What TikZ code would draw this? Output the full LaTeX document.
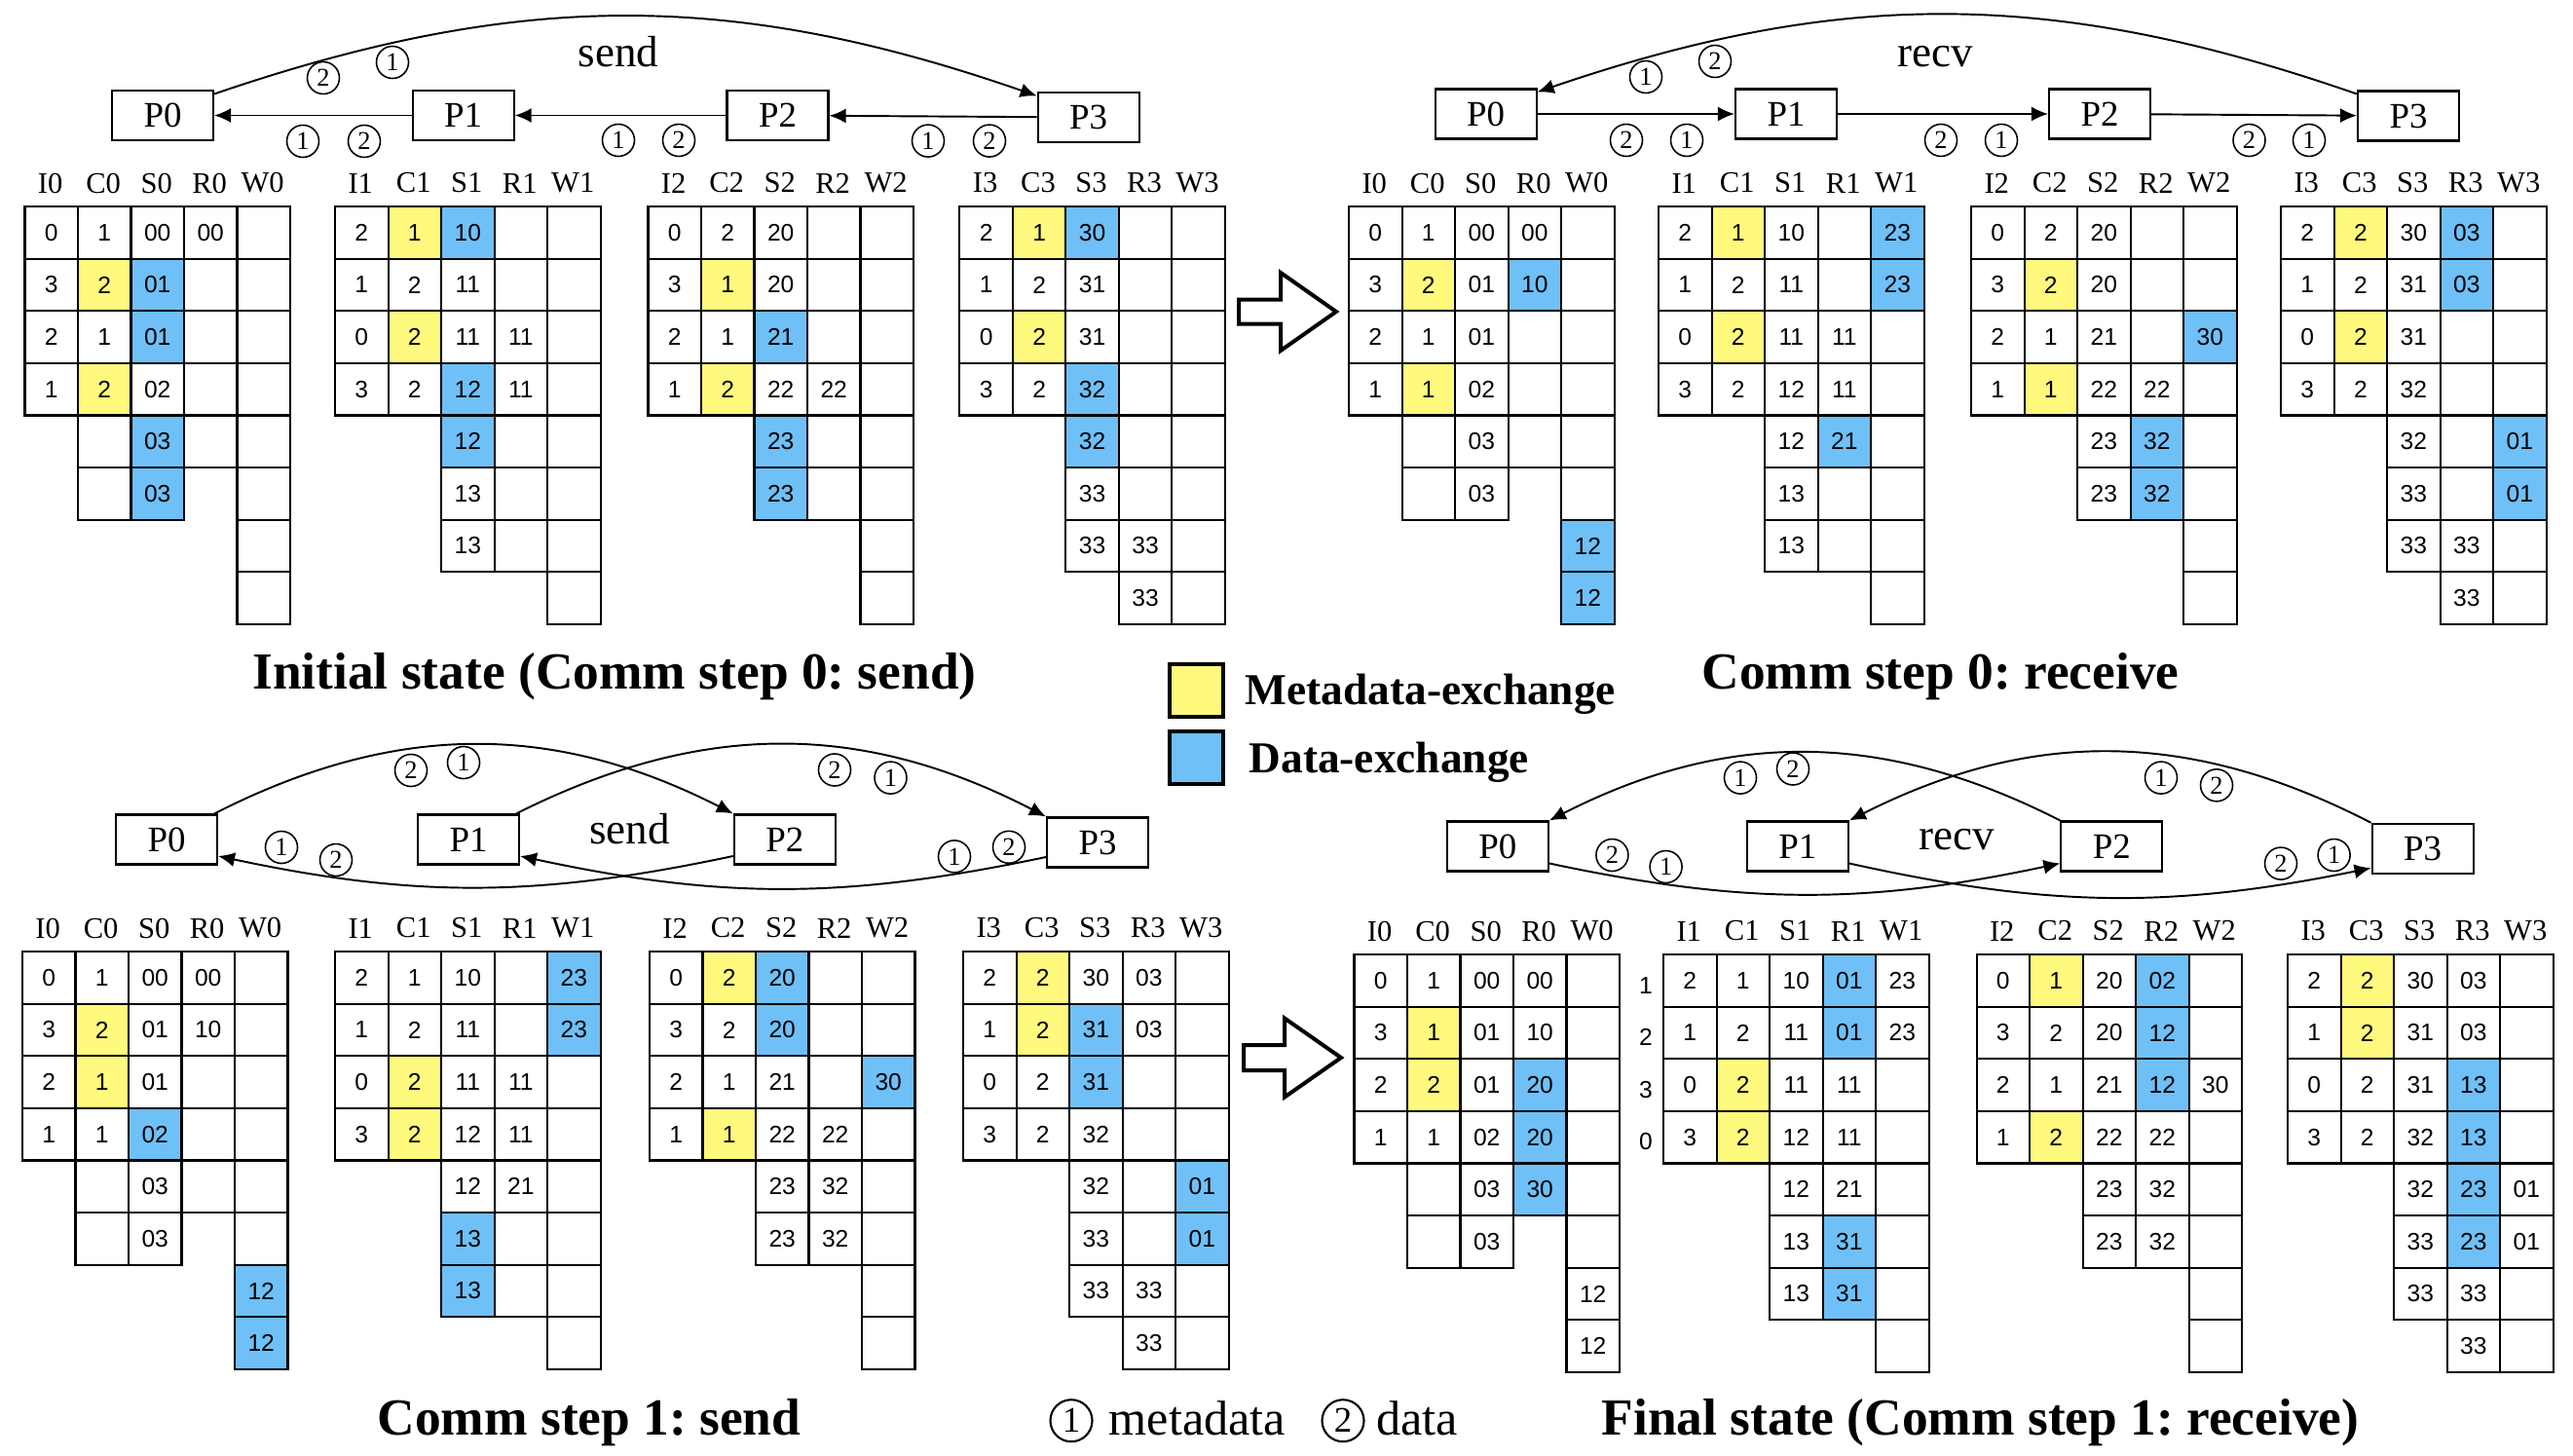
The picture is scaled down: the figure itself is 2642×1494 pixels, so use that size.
\documentclass[tikz,border=0pt]{standalone}
\usepackage{fontspec}
\setmainfont{Liberation Serif}
\newfontfamily\cellfont{Liberation Sans}
\usepackage{xcolor}
\usepackage{tikz}
\usetikzlibrary{arrows.meta}
\frenchspacing

\definecolor{metayellow}{RGB}{255,249,126}
\definecolor{datablue}{RGB}{111,192,247}

\tikzset{
  wc/.style={draw, line width=0.6pt, minimum width=5.45mm, minimum height=5.36mm, inner sep=0pt, anchor=north west, font=\cellfont\fontsize{7}{8}\selectfont},
  yc/.style={wc, fill=metayellow},
  bc/.style={wc, fill=datablue},
  head/.style={inner sep=0pt, font=\fontsize{8.7}{10}\selectfont},
  proc/.style={draw, line width=0.6pt, minimum width=10.4mm, minimum height=5.1mm, inner sep=0pt, font=\fontsize{10.5}{12}\selectfont},
  cnum/.style={circle, draw, line width=0.45pt, minimum size=3.3mm, inner sep=0pt, font=\fontsize{7.5}{8}\selectfont},
  cbig/.style={circle, draw, line width=0.6pt, minimum size=4.3mm, inner sep=0pt, font=\fontsize{10.5}{12}\selectfont},
  msg/.style={-{Latex[length=1.7mm,width=1.5mm]}, line width=0.55pt},
  title/.style={anchor=base, inner sep=0pt, font=\bfseries\fontsize{15.2}{18}\selectfont},
  keybox/.style={draw, line width=0.4mm, minimum width=5.5mm, minimum height=5.4mm, inner sep=0pt},
  keytext/.style={anchor=base west, inner sep=0pt, font=\bfseries\fontsize{12.9}{15}\selectfont},
  note/.style={anchor=base west, inner sep=0pt, font=\fontsize{14.3}{17}\selectfont},
  oplabel/.style={anchor=base, inner sep=0pt, font=\fontsize{12.8}{15}\selectfont},
}

% one buffer column: name, x, y, list of style/value
\newcommand{\bufcol}[4]{%
  \foreach [count=\row from 0] \sty/\val in {#4}
    \node[\sty] (#1-\row) at ({#2},{#3+53.6*\row}) {\val};%
}
% one rank: name, rank, x, y, I, C, S, R, W
\newcommand{\rankbuf}[9]{%
  \foreach [count=\col from 0] \hd in {I,C,S,R,W}
    \node[head] (#1-h\hd) at ({#3+27.25+54.5*\col},{#4-23}) {\hd#2};
  \bufcol{#1-I}{#3}{#4}{#5}
  \bufcol{#1-C}{#3+54.5}{#4}{#6}
  \bufcol{#1-S}{#3+109}{#4}{#7}
  \bufcol{#1-R}{#3+163.5}{#4}{#8}
  \bufcol{#1-W}{#3+218}{#4}{#9}
}

\begin{document}
\begin{tikzpicture}[x=0.1mm, y=-0.1mm]
  \useasboundingbox (0,0) rectangle (2642,1494);

  % Initial state (send, step 0)
  \node[proc] (s0P0) at (167,118.5) {P0};
  \node[proc] (s0P1) at (475.6,118.5) {P1};
  \node[proc] (s0P2) at (798.5,118.5) {P2};
  \node[proc] (s0P3) at (1117.7,120.5) {P3};
  \draw[msg] (s0P1) -- (s0P0);
  \draw[msg] (s0P2) -- (s0P1);
  \draw[msg] (s0P3) -- (s0P2);
  \draw[msg] ([yshift=-0.45mm]s0P0.north east) to[bend left=19] ([yshift=-0.45mm]s0P3.north west);
  \node[oplabel] (s0op) at (635,69) {send};
  \node[cnum] (s0c1) at (332,80) {2};
  \node[cnum] (s0c2) at (403,64) {1};
  \node[cnum] (s0c3) at (311,145) {1};
  \node[cnum] (s0c4) at (374,145) {2};
  \node[cnum] (s0c5) at (635,144) {1};
  \node[cnum] (s0c6) at (697,144) {2};
  \node[cnum] (s0c7) at (953,144.6) {1};
  \node[cnum] (s0c8) at (1016,144.6) {2};

  \rankbuf{s0b0}{0}{24.4}{211}{wc/0,wc/3,wc/2,wc/1}{wc/1,yc/2,wc/1,yc/2,wc/{},wc/{}}{wc/00,bc/01,bc/01,wc/02,bc/03,bc/03}{wc/00,wc/{},wc/{},wc/{},wc/{}}{wc/{},wc/{},wc/{},wc/{},wc/{},wc/{},wc/{},wc/{}}
  \rankbuf{s0b1}{1}{343}{211}{wc/2,wc/1,wc/0,wc/3}{yc/1,wc/2,yc/2,wc/2}{bc/10,wc/11,wc/11,bc/12,bc/12,wc/13,wc/13}{wc/{},wc/{},wc/11,wc/11,wc/{},wc/{},wc/{}}{wc/{},wc/{},wc/{},wc/{},wc/{},wc/{},wc/{},wc/{}}
  \rankbuf{s0b2}{2}{664.4}{211}{wc/0,wc/3,wc/2,wc/1}{wc/2,yc/1,wc/1,yc/2}{wc/20,wc/20,bc/21,wc/22,bc/23,bc/23}{wc/{},wc/{},wc/{},wc/22,wc/{},wc/{}}{wc/{},wc/{},wc/{},wc/{},wc/{},wc/{},wc/{},wc/{}}
  \rankbuf{s0b3}{3}{984.3}{211}{wc/2,wc/1,wc/0,wc/3}{yc/1,wc/2,yc/2,wc/2}{bc/30,wc/31,wc/31,bc/32,bc/32,wc/33,wc/33}{wc/{},wc/{},wc/{},wc/{},wc/{},wc/{},wc/33,wc/33}{wc/{},wc/{},wc/{},wc/{},wc/{},wc/{},wc/{},wc/{}}
  \node[title] (s0title) at (631,707) {Initial state (Comm step 0: send)};

  % Comm step 0: receive
  \node[proc] (r0P0) at (1525.6,117) {P0};
  \node[proc] (r0P1) at (1834,117) {P1};
  \node[proc] (r0P2) at (2156,117) {P2};
  \node[proc] (r0P3) at (2473,119) {P3};
  \draw[msg] (r0P0) -- (r0P1);
  \draw[msg] (r0P1) -- (r0P2);
  \draw[msg] (r0P2) -- (r0P3);
  \draw[msg] ([yshift=-0.4mm]r0P3.north west) to[bend right=19] ([yshift=-0.4mm]r0P0.north east);
  \node[oplabel] (r0op) at (1987,69) {recv};
  \node[cnum] (r0c1) at (1690,79) {1};
  \node[cnum] (r0c2) at (1761,63) {2};
  \node[cnum] (r0c3) at (1670,144) {2};
  \node[cnum] (r0c4) at (1732,144) {1};
  \node[cnum] (r0c5) at (1993,144) {2};
  \node[cnum] (r0c6) at (2055,144) {1};
  \node[cnum] (r0c7) at (2309.5,144) {2};
  \node[cnum] (r0c8) at (2371,144) {1};

  \rankbuf{r0b0}{0}{1384}{211}{wc/0,wc/3,wc/2,wc/1}{wc/1,yc/2,wc/1,yc/1,wc/{},wc/{}}{wc/00,wc/01,wc/01,wc/02,wc/03,wc/03}{wc/00,bc/10,wc/{},wc/{},wc/{}}{wc/{},wc/{},wc/{},wc/{},wc/{},wc/{},bc/12,bc/12}
  \rankbuf{r0b1}{1}{1702}{211}{wc/2,wc/1,wc/0,wc/3}{yc/1,wc/2,yc/2,wc/2}{wc/10,wc/11,wc/11,wc/12,wc/12,wc/13,wc/13}{wc/{},wc/{},wc/11,wc/11,bc/21,wc/{},wc/{}}{bc/23,bc/23,wc/{},wc/{},wc/{},wc/{},wc/{},wc/{}}
  \rankbuf{r0b2}{2}{2023}{211}{wc/0,wc/3,wc/2,wc/1}{wc/2,yc/2,wc/1,yc/1}{wc/20,wc/20,wc/21,wc/22,wc/23,wc/23}{wc/{},wc/{},wc/{},wc/22,bc/32,bc/32}{wc/{},wc/{},bc/30,wc/{},wc/{},wc/{},wc/{},wc/{}}
  \rankbuf{r0b3}{3}{2341}{211}{wc/2,wc/1,wc/0,wc/3}{yc/2,wc/2,yc/2,wc/2}{wc/30,wc/31,wc/31,wc/32,wc/32,wc/33,wc/33}{bc/03,bc/03,wc/{},wc/{},wc/{},wc/{},wc/33,wc/33}{wc/{},wc/{},wc/{},wc/{},bc/01,bc/01,wc/{},wc/{}}
  \node[title] (r0title) at (1992.5,707) {Comm step 0: receive};

  % next-state arrows
  \draw[line width=0.4mm, line join=miter] (1272,307.5) -- (1315,307.5) -- (1315,280) -- (1372,320) -- (1315,360) -- (1315,332.5) -- (1272,332.5) -- cycle;
  \draw[line width=0.4mm, line join=miter] (1277,1073) -- (1319,1073) -- (1319,1045.5) -- (1377,1086) -- (1319,1126.5) -- (1319,1099) -- (1277,1099) -- cycle;

  % legend
  \node[keybox, fill=metayellow] (metakey) at (1228.5,709) {};
  \node[keybox, fill=datablue] (datakey) at (1228.5,777.5) {};
  \node[keytext] (metatext) at (1278,723) {Metadata-exchange};
  \node[keytext] (datatext) at (1282,793) {Data-exchange};

  % Comm step 1: send
  \node[proc] (s1P0) at (171,862) {P0};
  \node[proc] (s1P1) at (481,862) {P1};
  \node[proc] (s1P2) at (805.8,862) {P2};
  \node[proc] (s1P3) at (1127,865) {P3};
  \draw[msg] ([xshift=-0.4mm]s1P0.north east) to[bend left=27] (s1P2.north west);
  \draw[msg] ([xshift=-0.4mm]s1P1.north east) to[bend left=27] (s1P3.north west);
  \draw[msg] ([yshift=-1.7mm]s1P2.west) to[bend left=12] ([yshift=-1.7mm]s1P0.east);
  \draw[msg] ([yshift=-1.5mm]s1P3.west) to[bend left=12] ([yshift=-1.7mm]s1P1.east);
  \node[oplabel] (s1op) at (646.5,866) {send};
  \node[cnum] (s1c1) at (422,791) {2};
  \node[cnum] (s1c2) at (476,783) {1};
  \node[cnum] (s1c3) at (289,870) {1};
  \node[cnum] (s1c4) at (345,883) {2};
  \node[cnum] (s1c5) at (857,790.5) {2};
  \node[cnum] (s1c6) at (914.5,798.6) {1};
  \node[cnum] (s1c7) at (980,879.4) {1};
  \node[cnum] (s1c8) at (1036,869.8) {2};

  \rankbuf{s1b0}{0}{21.9}{976}{wc/0,wc/3,wc/2,wc/1}{wc/1,yc/2,yc/1,wc/1,wc/{},wc/{}}{wc/00,wc/01,wc/01,bc/02,wc/03,wc/03}{wc/00,wc/10,wc/{},wc/{},wc/{}}{wc/{},wc/{},wc/{},wc/{},wc/{},wc/{},bc/12,bc/12}
  \rankbuf{s1b1}{1}{343}{976}{wc/2,wc/1,wc/0,wc/3}{wc/1,wc/2,yc/2,yc/2}{wc/10,wc/11,wc/11,wc/12,wc/12,bc/13,bc/13}{wc/{},wc/{},wc/11,wc/11,wc/21,wc/{},wc/{}}{bc/23,bc/23,wc/{},wc/{},wc/{},wc/{},wc/{},wc/{}}
  \rankbuf{s1b2}{2}{665.9}{976}{wc/0,wc/3,wc/2,wc/1}{yc/2,wc/2,wc/1,yc/1}{bc/20,bc/20,wc/21,wc/22,wc/23,wc/23}{wc/{},wc/{},wc/{},wc/22,wc/32,wc/32}{wc/{},wc/{},bc/30,wc/{},wc/{},wc/{},wc/{},wc/{}}
  \rankbuf{s1b3}{3}{988}{976}{wc/2,wc/1,wc/0,wc/3}{yc/2,yc/2,wc/2,wc/2}{wc/30,bc/31,bc/31,wc/32,wc/32,wc/33,wc/33}{wc/03,wc/03,wc/{},wc/{},wc/{},wc/{},wc/33,wc/33}{wc/{},wc/{},wc/{},wc/{},bc/01,bc/01,wc/{},wc/{}}
  \node[title] (s1title) at (605,1473) {Comm step 1: send};

  % Final state (receive, step 1)
  \node[proc] (r1P0) at (1537.8,869) {P0};
  \node[proc] (r1P1) at (1845.8,869) {P1};
  \node[proc] (r1P2) at (2168.4,869) {P2};
  \node[proc] (r1P3) at (2487.6,871.3) {P3};
  \draw[msg] (r1P2.north west) to[bend right=27] (r1P0.north east);
  \draw[msg] (r1P3.north west) to[bend right=27] (r1P1.north east);
  \draw[msg] ([yshift=-1.75mm]r1P0.east) to[bend right=12] ([yshift=-1.75mm]r1P2.west);
  \draw[msg] ([yshift=-1.75mm]r1P1.east) to[bend right=12] ([yshift=-2mm]r1P3.west);
  \node[oplabel] (r1op) at (2009,872) {recv};
  \node[cnum] (r1c1) at (1787,798.6) {1};
  \node[cnum] (r1c2) at (1841,789.5) {2};
  \node[cnum] (r1c3) at (1655.4,878) {2};
  \node[cnum] (r1c4) at (1710.6,890) {1};
  \node[cnum] (r1c5) at (2219,798.6) {1};
  \node[cnum] (r1c6) at (2276,806.3) {2};
  \node[cnum] (r1c7) at (2342,886.6) {2};
  \node[cnum] (r1c8) at (2396.6,878) {1};

  \rankbuf{r1b0}{0}{1389.4}{979}{wc/0,wc/3,wc/2,wc/1}{wc/1,yc/1,yc/2,wc/1,wc/{},wc/{}}{wc/00,wc/01,wc/01,wc/02,wc/03,wc/03}{wc/00,wc/10,bc/20,bc/20,bc/30}{wc/{},wc/{},wc/{},wc/{},wc/{},wc/{},wc/12,wc/12}
  \rankbuf{r1b1}{1}{1707}{979}{wc/2,wc/1,wc/0,wc/3}{wc/1,wc/2,yc/2,yc/2}{wc/10,wc/11,wc/11,wc/12,wc/12,wc/13,wc/13}{bc/01,bc/01,wc/11,wc/11,wc/21,bc/31,bc/31}{wc/23,wc/23,wc/{},wc/{},wc/{},wc/{},wc/{},wc/{}}
  \rankbuf{r1b2}{2}{2028.5}{979}{wc/0,wc/3,wc/2,wc/1}{yc/1,wc/2,wc/1,yc/2}{wc/20,wc/20,wc/21,wc/22,wc/23,wc/23}{bc/02,bc/12,bc/12,wc/22,wc/32,wc/32}{wc/{},wc/{},wc/30,wc/{},wc/{},wc/{},wc/{},wc/{}}
  \rankbuf{r1b3}{3}{2348}{979}{wc/2,wc/1,wc/0,wc/3}{yc/2,yc/2,wc/2,wc/2}{wc/30,wc/31,wc/31,wc/32,wc/32,wc/33,wc/33}{wc/03,wc/03,bc/13,bc/13,bc/23,bc/23,wc/33,wc/33}{wc/{},wc/{},wc/{},wc/{},wc/01,wc/01,wc/{},wc/{}}
  \foreach [count=\row from 0] \val in {1,2,3,0}
    \node[font=\cellfont\fontsize{7}{8}\selectfont] (r1row\row) at (1690,{1011.6+53.6*\row}) {\val};
  \node[title] (r1title) at (2033.5,1473) {Final state (Comm step 1: receive)};

  % circled-number key
  \node[cbig] (metanum) at (1100,1458.7) {1};
  \node[note] (metanote) at (1138,1473) {metadata};
  \node[cbig] (datanum) at (1379,1458.7) {2};
  \node[note] (datanote) at (1412.6,1473) {data};
\end{tikzpicture}
\end{document}
